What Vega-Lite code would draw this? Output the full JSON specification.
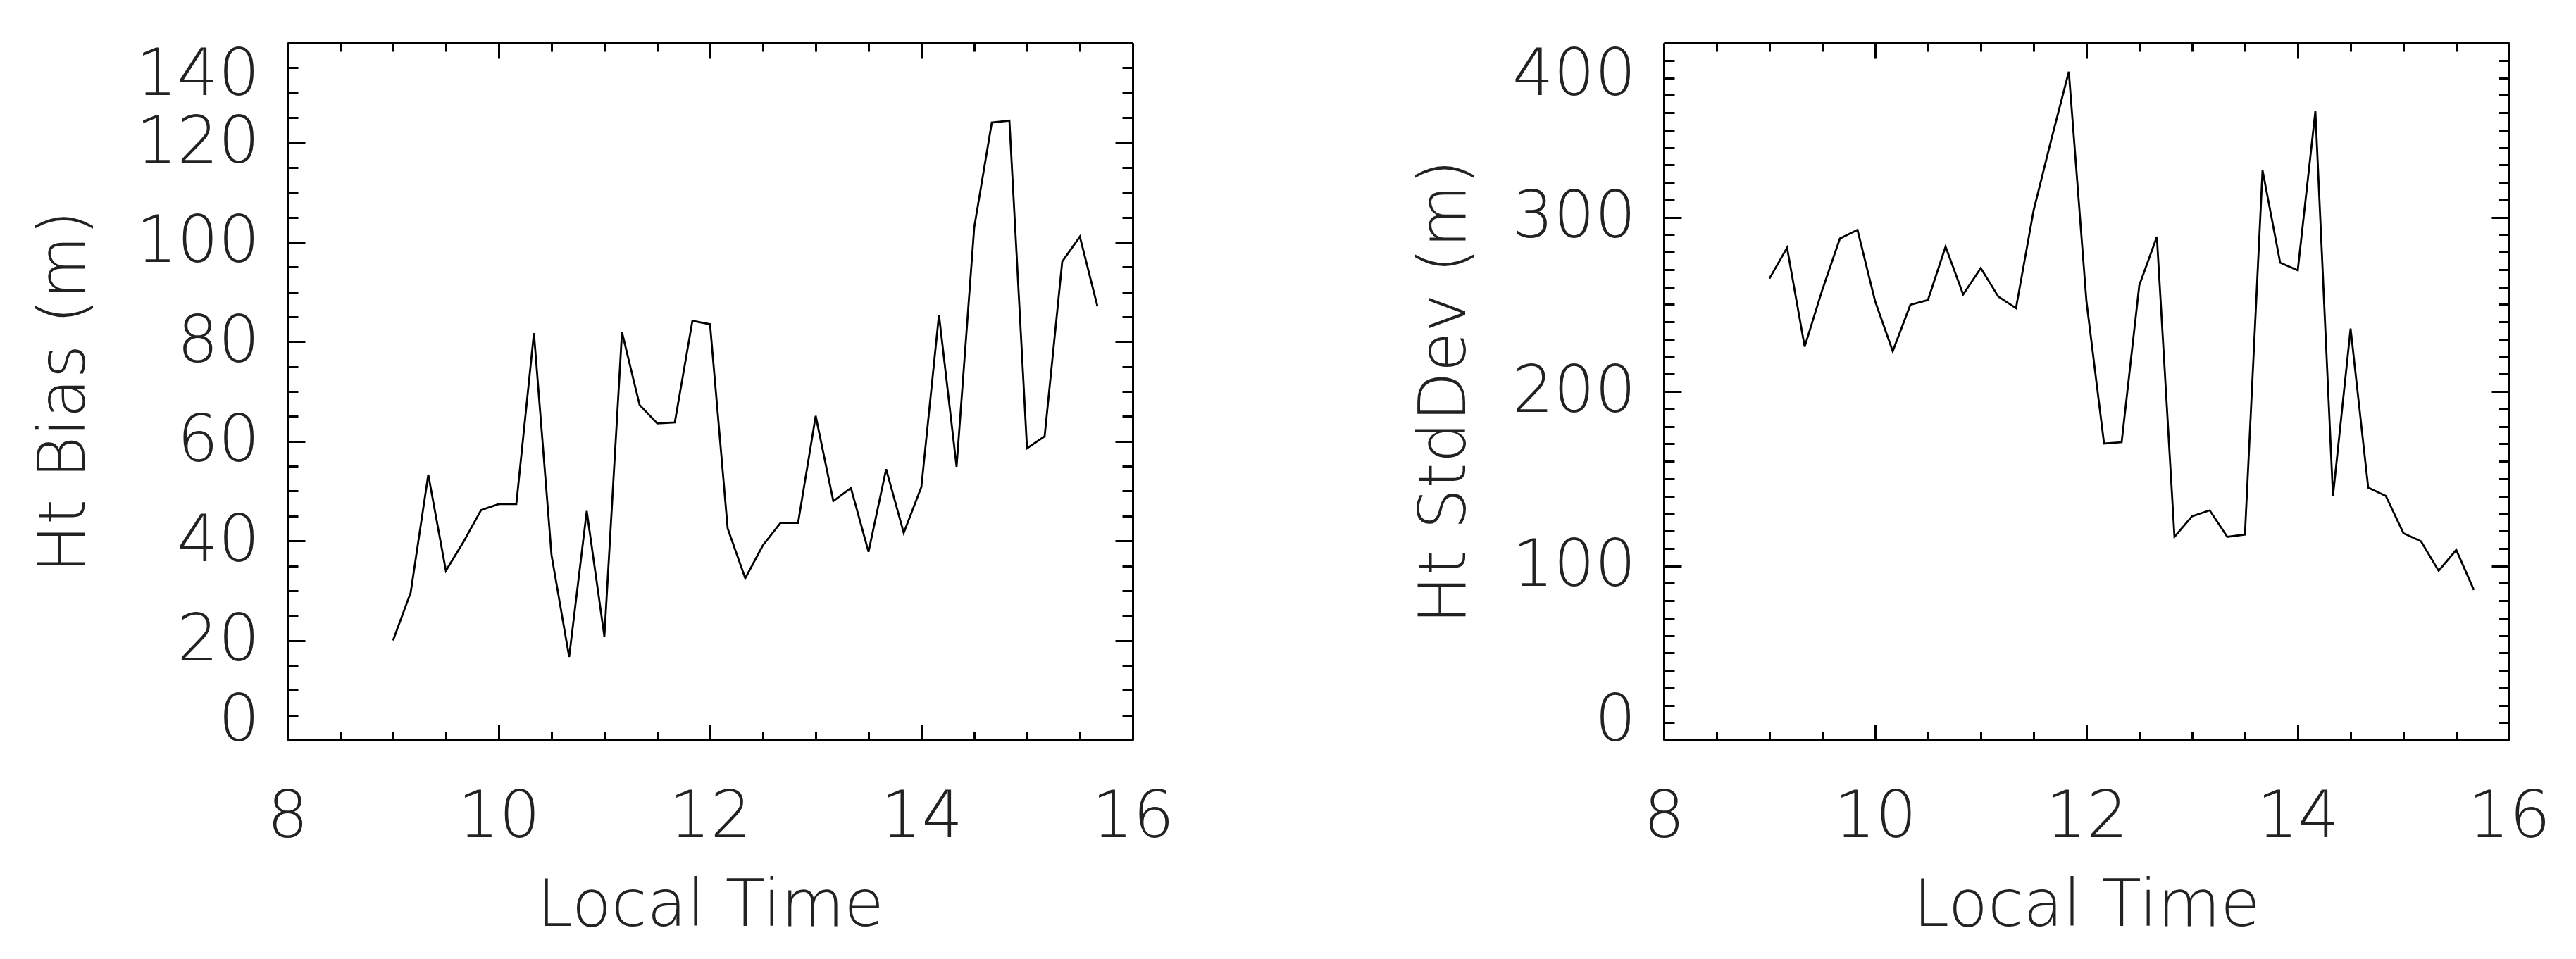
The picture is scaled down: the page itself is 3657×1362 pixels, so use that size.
{
  "$schema": "https://vega.github.io/schema/vega-lite/v6.json",
  "background": "white",
  "padding": {"top": 39, "left": 45, "right": 10, "bottom": 10},
  "spacing": 338,
  "data": {"values": [
    {"t": 9.0, "bias": 20.0, "sd": 264.8},
    {"t": 9.1667, "bias": 29.6, "sd": 282.5},
    {"t": 9.3333, "bias": 53.3, "sd": 225.7},
    {"t": 9.5, "bias": 34.0, "sd": 258.3},
    {"t": 9.6667, "bias": 39.8, "sd": 287.8},
    {"t": 9.8333, "bias": 46.2, "sd": 292.7},
    {"t": 10.0, "bias": 47.4, "sd": 251.8},
    {"t": 10.1667, "bias": 47.4, "sd": 223.1},
    {"t": 10.3333, "bias": 81.7, "sd": 249.7},
    {"t": 10.5, "bias": 37.1, "sd": 252.5},
    {"t": 10.6667, "bias": 16.7, "sd": 283.1},
    {"t": 10.8333, "bias": 46.0, "sd": 255.7},
    {"t": 11.0, "bias": 20.8, "sd": 270.8},
    {"t": 11.1667, "bias": 81.9, "sd": 254.4},
    {"t": 11.3333, "bias": 67.3, "sd": 247.8},
    {"t": 11.5, "bias": 63.6, "sd": 303.9},
    {"t": 11.6667, "bias": 63.8, "sd": 344.4},
    {"t": 11.8333, "bias": 84.2, "sd": 383.5},
    {"t": 12.0, "bias": 83.5, "sd": 251.8},
    {"t": 12.1667, "bias": 42.5, "sd": 170.1},
    {"t": 12.3333, "bias": 32.5, "sd": 170.9},
    {"t": 12.5, "bias": 39.1, "sd": 260.9},
    {"t": 12.6667, "bias": 43.6, "sd": 288.8},
    {"t": 12.8333, "bias": 43.6, "sd": 116.6},
    {"t": 13.0, "bias": 65.1, "sd": 128.4},
    {"t": 13.1667, "bias": 48.0, "sd": 131.8},
    {"t": 13.3333, "bias": 50.6, "sd": 116.6},
    {"t": 13.5, "bias": 37.8, "sd": 117.9},
    {"t": 13.6667, "bias": 54.4, "sd": 326.9},
    {"t": 13.8333, "bias": 41.6, "sd": 273.9},
    {"t": 14.0, "bias": 50.8, "sd": 269.5},
    {"t": 14.1667, "bias": 85.4, "sd": 360.8},
    {"t": 14.3333, "bias": 54.9, "sd": 140.1},
    {"t": 14.5, "bias": 102.9, "sd": 236.1},
    {"t": 14.6667, "bias": 124.0, "sd": 144.8},
    {"t": 14.8333, "bias": 124.4, "sd": 140.1},
    {"t": 15.0, "bias": 58.6, "sd": 118.7},
    {"t": 15.1667, "bias": 61.0, "sd": 114.0},
    {"t": 15.3333, "bias": 96.1, "sd": 97.1},
    {"t": 15.5, "bias": 101.1, "sd": 109.1},
    {"t": 15.6667, "bias": 87.1, "sd": 86.1}
  ]},
  "hconcat": [
    {
      "width": 1200,
      "height": 990,
      "layer": [
        {
          "mark": {"type": "line", "color": "black", "strokeWidth": 2.8},
          "encoding": {
            "x": {"field": "t", "type": "quantitative",
              "scale": {"domain": [8, 16], "nice": false, "zero": false},
              "axis": {"orient": "bottom", "title": "Local Time",
                "values": [8, 8.5, 9, 9.5, 10, 10.5, 11, 11.5, 12, 12.5, 13, 13.5, 14, 14.5, 15, 15.5, 16],
                "tickSize": {"condition": {"test": "datum.value % 2 === 0", "value": -22}, "value": -12},
                "labelExpr": "datum.value % 2 === 0 ? format(datum.value, 'd') : ''",
                "labelLimit": 1000,
                "labelPadding": 86, "labelFlush": false, "titlePadding": 25}},
            "y": {"field": "bias", "type": "quantitative",
              "scale": {"domain": [0, 140], "nice": false, "zero": false},
              "axis": {"orient": "left", "title": "Ht Bias (m)",
                "values": [0, 5, 10, 15, 20, 25, 30, 35, 40, 45, 50, 55, 60, 65, 70, 75, 80, 85, 90, 95, 100, 105, 110, 115, 120, 125, 130, 135, 140],
                "tickSize": {"condition": {"test": "datum.value % 20 === 0", "value": -25}, "value": -15},
                "labelExpr": "datum.value % 20 === 0 ? format(datum.value, 'd') : ''",
                "labelOffset": {"condition": {"test": "datum.value === 0", "value": 19}, "value": 0},
                "labelLimit": 1000,
                "labelPadding": 65, "labelFlush": true, "labelFlushOffset": 0, "titlePadding": 70}}
          }
        },
        {
          "mark": {"type": "line", "opacity": 0},
          "encoding": {
            "x": {"field": "t", "type": "quantitative",
              "axis": {"orient": "top", "title": null, "labels": false,
                "values": [8, 8.5, 9, 9.5, 10, 10.5, 11, 11.5, 12, 12.5, 13, 13.5, 14, 14.5, 15, 15.5, 16],
                "tickSize": {"condition": {"test": "datum.value % 2 === 0", "value": -22}, "value": -12}}},
            "y": {"field": "bias", "type": "quantitative",
              "axis": {"orient": "right", "title": null, "labels": false,
                "values": [0, 5, 10, 15, 20, 25, 30, 35, 40, 45, 50, 55, 60, 65, 70, 75, 80, 85, 90, 95, 100, 105, 110, 115, 120, 125, 130, 135, 140],
                "tickSize": {"condition": {"test": "datum.value % 20 === 0", "value": -25}, "value": -15}}}
          }
        }
      ],
      "resolve": {"axis": {"x": "independent", "y": "independent"}}
    },
    {
      "width": 1200,
      "height": 990,
      "layer": [
        {
          "mark": {"type": "line", "color": "black", "strokeWidth": 2.8},
          "encoding": {
            "x": {"field": "t", "type": "quantitative",
              "scale": {"domain": [8, 16], "nice": false, "zero": false},
              "axis": {"orient": "bottom", "title": "Local Time",
                "values": [8, 8.5, 9, 9.5, 10, 10.5, 11, 11.5, 12, 12.5, 13, 13.5, 14, 14.5, 15, 15.5, 16],
                "tickSize": {"condition": {"test": "datum.value % 2 === 0", "value": -22}, "value": -12},
                "labelExpr": "datum.value % 2 === 0 ? format(datum.value, 'd') : ''",
                "labelLimit": 1000,
                "labelPadding": 86, "labelFlush": false, "titlePadding": 25}},
            "y": {"field": "sd", "type": "quantitative",
              "scale": {"domain": [0, 400], "nice": false, "zero": false},
              "axis": {"orient": "left", "title": "Ht StdDev (m)",
                "values": [0, 10, 20, 30, 40, 50, 60, 70, 80, 90, 100, 110, 120, 130, 140, 150, 160, 170, 180, 190, 200, 210, 220, 230, 240, 250, 260, 270, 280, 290, 300, 310, 320, 330, 340, 350, 360, 370, 380, 390, 400],
                "tickSize": {"condition": {"test": "datum.value % 100 === 0", "value": -25}, "value": -15},
                "labelExpr": "datum.value % 100 === 0 ? format(datum.value, 'd') : ''",
                "labelOffset": {"condition": {"test": "datum.value === 0", "value": 19}, "value": 0},
                "labelLimit": 1000,
                "labelPadding": 65, "labelFlush": true, "labelFlushOffset": 0, "titlePadding": 64}}
          }
        },
        {
          "mark": {"type": "line", "opacity": 0},
          "encoding": {
            "x": {"field": "t", "type": "quantitative",
              "axis": {"orient": "top", "title": null, "labels": false,
                "values": [8, 8.5, 9, 9.5, 10, 10.5, 11, 11.5, 12, 12.5, 13, 13.5, 14, 14.5, 15, 15.5, 16],
                "tickSize": {"condition": {"test": "datum.value % 2 === 0", "value": -22}, "value": -12}}},
            "y": {"field": "sd", "type": "quantitative",
              "axis": {"orient": "right", "title": null, "labels": false,
                "values": [0, 10, 20, 30, 40, 50, 60, 70, 80, 90, 100, 110, 120, 130, 140, 150, 160, 170, 180, 190, 200, 210, 220, 230, 240, 250, 260, 270, 280, 290, 300, 310, 320, 330, 340, 350, 360, 370, 380, 390, 400],
                "tickSize": {"condition": {"test": "datum.value % 100 === 0", "value": -25}, "value": -15}}}
          }
        }
      ],
      "resolve": {"axis": {"x": "independent", "y": "independent"}}
    }
  ],
  "config": {
    "view": {"stroke": null},
    "axis": {
      "grid": false,
      "domainColor": "#000000",
      "domainWidth": 3,
      "tickColor": "#000000",
      "tickWidth": 3,
      "labelFont": "DejaVu Sans",
      "labelFontSize": 92,
      "labelFontWeight": 200,
      "labelColor": "#222222",
      "labelOverlap": false,
      "labelBound": false,
      "titleFont": "DejaVu Sans",
      "titleFontSize": 92,
      "titleFontWeight": 200,
      "titleColor": "#222222"
    }
  }
}
